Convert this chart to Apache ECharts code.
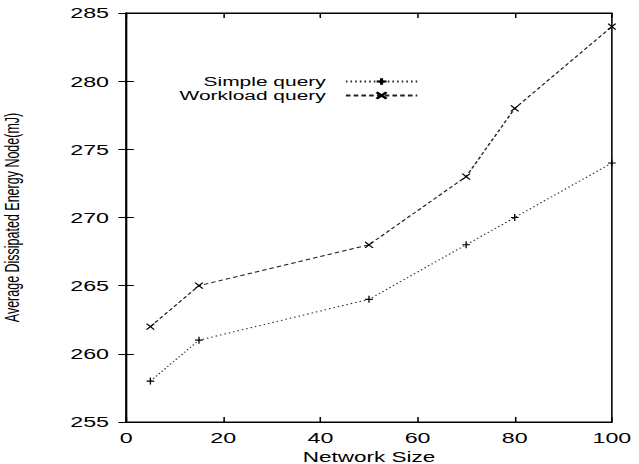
<!DOCTYPE html>
<html>
<head>
<meta charset="utf-8">
<script src="https://cdn.jsdelivr.net/npm/echarts@6/dist/echarts.min.js"></script>
<style>
html,body{margin:0;padding:0;background:#fff;overflow:hidden;width:639px;height:464px;}
#wrap{width:639px;height:464px;overflow:hidden;}
#chart{width:412px;height:464px;transform:scaleX(1.5510);transform-origin:0 0;}
</style>
</head>
<body>
<div id="wrap"><div id="chart"></div></div>
<script>
// Data
const networkSize = [5, 15, 50, 70, 80, 100];
const simpleQuery = [258, 261, 264, 268, 270, 274];
const workloadQuery = [262, 265, 268, 273, 278, 284];
const seriesNames = ['Simple query', 'Workload query'];
const xTitle = 'Network Size';
const yTitle = 'Average Dissipated Energy Node(mJ)';

const FONT = '"Liberation Sans", Arial, Helvetica, sans-serif';
const plus = 'path://M0,5L10,5M5,0L5,10';
const cross = 'path://M0,0L10,10M10,0L0,10';

function pairs(xs, ys) { return xs.map((x, i) => [x, ys[i]]); }

const chart = echarts.init(document.getElementById('chart'), null, {renderer: 'svg'});
const tickStyle = {show: true, inside: true, length: 5, lineStyle: {color: '#000', width: 1}};
const lineAx = {show: true, lineStyle: {color: '#000', width: 1}};
const legText = {fontFamily: FONT, fontSize: 13.5, lineHeight: 13, color: '#000', padding: [0, 8, 0, 0]};
chart.setOption({
  animation: false,
  backgroundColor: '#fff',
  textStyle: {fontFamily: FONT, color: '#000'},
  grid: {left: 81.3, right: 17.5, top: 13, bottom: 42, show: true, borderColor: '#000', borderWidth: 1,
         containLabel: false, outerBoundsMode: 'none'},
  legend: [
    {data: [seriesNames[0]], right: 142, top: 74.5, itemWidth: 46, itemHeight: 8, itemGap: 0, padding: 0,
     align: 'right', textStyle: legText},
    {data: [seriesNames[1]], right: 142, top: 88.5, itemWidth: 46, itemHeight: 8, itemGap: 0, padding: 0,
     align: 'right', textStyle: legText}
  ],
  xAxis: [
    {type: 'value', min: 0, max: 100, interval: 20, position: 'bottom',
     name: xTitle, nameLocation: 'middle', nameGap: 21,
     nameTextStyle: {fontFamily: FONT, fontSize: 14.5, lineHeight: 14, color: '#000'},
     axisLine: lineAx, axisTick: tickStyle,
     axisLabel: {fontFamily: FONT, fontSize: 15, color: '#000', margin: 8},
     splitLine: {show: false}},
    {type: 'value', min: 0, max: 100, interval: 20, position: 'top',
     axisLine: lineAx, axisTick: tickStyle, axisLabel: {show: false}, splitLine: {show: false}}
  ],
  yAxis: [
    {type: 'value', min: 255, max: 285, interval: 5, position: 'left',
     name: yTitle, nameLocation: 'middle', nameGap: 67, nameRotate: 90,
     nameTextStyle: {fontFamily: FONT, fontSize: 12.5, color: '#000'},
     axisLine: lineAx, axisTick: tickStyle,
     axisLabel: {fontFamily: FONT, fontSize: 15, color: '#000', margin: 11},
     splitLine: {show: false}},
    {type: 'value', min: 255, max: 285, interval: 5, position: 'right',
     axisLine: lineAx, axisTick: tickStyle, axisLabel: {show: false}, splitLine: {show: false}}
  ],
  series: [
    {name: seriesNames[0], type: 'line', xAxisIndex: 0, yAxisIndex: 0,
     data: pairs(networkSize, simpleQuery),
     symbol: plus, symbolSize: [5, 7], showSymbol: true,
     itemStyle: {color: 'rgba(0,0,0,0)', borderColor: '#000', borderWidth: 1},
     lineStyle: {color: '#222', width: 1, type: [1, 2]}},
    {name: seriesNames[1], type: 'line', xAxisIndex: 0, yAxisIndex: 0,
     data: pairs(networkSize, workloadQuery),
     symbol: cross, symbolSize: [5, 6], showSymbol: true,
     itemStyle: {color: 'rgba(0,0,0,0)', borderColor: '#000', borderWidth: 1},
     lineStyle: {color: '#222', width: 1, type: [3, 2]}}
  ]
});
</script>
</body>
</html>
